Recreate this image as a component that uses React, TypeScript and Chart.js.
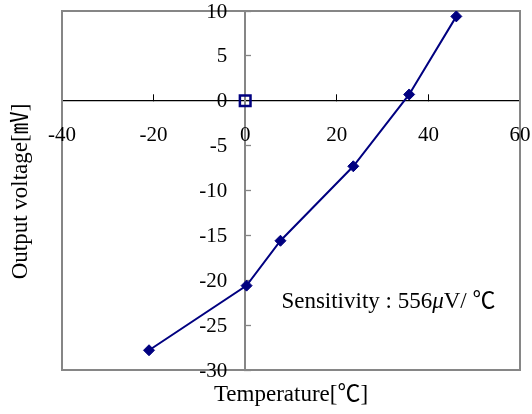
import { useEffect, useRef } from "react";
import { Chart, registerables } from "chart.js";

Chart.register(...registerables);

// ---- data ----
const temperature = [-21, 0.3, 7.7, 23.6, 35.8, 46.1];
const voltage = [-27.8, -20.6, -15.6, -7.3, 0.7, 9.4];
const originTemperature = [0];
const originVoltage = [0];

const xMin = -40;
const xMax = 60;
const xStep = 20;
const yMin = -30;
const yMax = 10;
const yStep = 5;

const xTitle = "Temperature[℃]";
const yTitle = "Output voltage[㎷]";
const noteParts = ["Sensitivity : 556", "μ", "V/ ℃"];
const notePosition = { x: 7.9, y: -23.1 };

const SERIF = '"Liberation Serif", "Times New Roman", "Noto Sans CJK JP", serif';
const NAVY = "#000080";
const GRAY = "#868686";

const decor = {
  id: "decor",
  beforeDatasetsDraw(chart: any) {
    const { ctx, chartArea: a } = chart;
    ctx.save();
    ctx.strokeStyle = GRAY;
    ctx.lineWidth = 2;
    ctx.strokeRect(a.left, a.top, a.right - a.left, a.bottom - a.top);
    ctx.restore();
  },
  afterDraw(chart: any) {
    const { ctx, chartArea: a, scales } = chart;
    const xs = scales.x;
    const ys = scales.y;
    ctx.save();
    ctx.fillStyle = "#000";
    ctx.font = `21px ${SERIF}`;
    // x tick labels, below the y=0 axis
    const y0 = ys.getPixelForValue(0);
    ctx.textAlign = "center";
    ctx.textBaseline = "middle";
    xs.ticks.forEach((t: any) => {
      ctx.fillText(String(t.value), xs.getPixelForValue(t.value), y0 + 35);
    });
    // y tick labels, left of the x=0 axis
    ctx.textAlign = "right";
    const x0 = xs.getPixelForValue(0);
    ys.ticks.forEach((t: any) => {
      ctx.fillText(String(t.value), x0 - 18, ys.getPixelForValue(t.value) + 1);
    });
    // axis titles
    ctx.font = `23px ${SERIF}`;
    ctx.textAlign = "center";
    ctx.textBaseline = "middle";
    ctx.fillText(xTitle, (a.left + a.right) / 2, a.bottom + 25);
    ctx.save();
    ctx.translate(21, (a.top + a.bottom) / 2 + 1);
    ctx.rotate(-Math.PI / 2);
    ctx.fillText(yTitle, 0, 0);
    ctx.restore();
    // annotation
    ctx.textAlign = "left";
    ctx.textBaseline = "alphabetic";
    let px = xs.getPixelForValue(notePosition.x);
    const py = ys.getPixelForValue(notePosition.y);
    noteParts.forEach((p, i) => {
      ctx.font = i === 1 ? `italic 23px ${SERIF}` : `23px ${SERIF}`;
      ctx.fillText(p, px, py);
      px += ctx.measureText(p).width;
    });
    ctx.restore();
  },
};

export default function App() {
  const ref = useRef<HTMLCanvasElement | null>(null);
  useEffect(() => {
    document.body.style.margin = "0";
    const canvas = ref.current!;
    const chart = new Chart(canvas, {
      type: "scatter",
      data: {
        datasets: [
          {
            data: temperature.map((t, i) => ({ x: t, y: voltage[i] })),
            showLine: true,
            borderColor: NAVY,
            backgroundColor: NAVY,
            borderWidth: 2,
            pointStyle: "rectRot",
            pointRadius: 5.5,
            pointBorderWidth: 1,
            pointBorderColor: NAVY,
            pointBackgroundColor: NAVY,
          },
          {
            data: originTemperature.map((t, i) => ({ x: t, y: originVoltage[i] })),
            showLine: false,
            pointStyle: "rect",
            pointRadius: 7.5,
            pointBorderWidth: 2.5,
            pointBorderColor: NAVY,
            pointBackgroundColor: "rgba(0,0,0,0)",
          },
        ],
      },
      plugins: [decor],
      options: {
        responsive: false,
        animation: false,
        layout: { padding: { left: 62, top: 11, right: 12, bottom: 44 } },
        plugins: { legend: { display: false }, tooltip: { enabled: false } },
        scales: {
          x: {
            type: "linear",
            position: { y: 0 } as any,
            min: xMin,
            max: xMax,
            ticks: { stepSize: xStep, display: false },
            grid: { drawOnChartArea: false, tickLength: -7, tickColor: "#000", tickWidth: 1 },
            border: { color: "#000", width: 1.3 },
          },
          y: {
            type: "linear",
            position: { x: 0 } as any,
            min: yMin,
            max: yMax,
            ticks: { stepSize: yStep, display: false },
            grid: { drawOnChartArea: false, tickLength: -7, tickColor: GRAY, tickWidth: 1.3 },
            border: { color: GRAY, width: 2 },
          },
        },
      },
    });
    return () => chart.destroy();
  }, []);
  return <canvas ref={ref} width={532} height={414} style={{ display: "block" }} />;
}
